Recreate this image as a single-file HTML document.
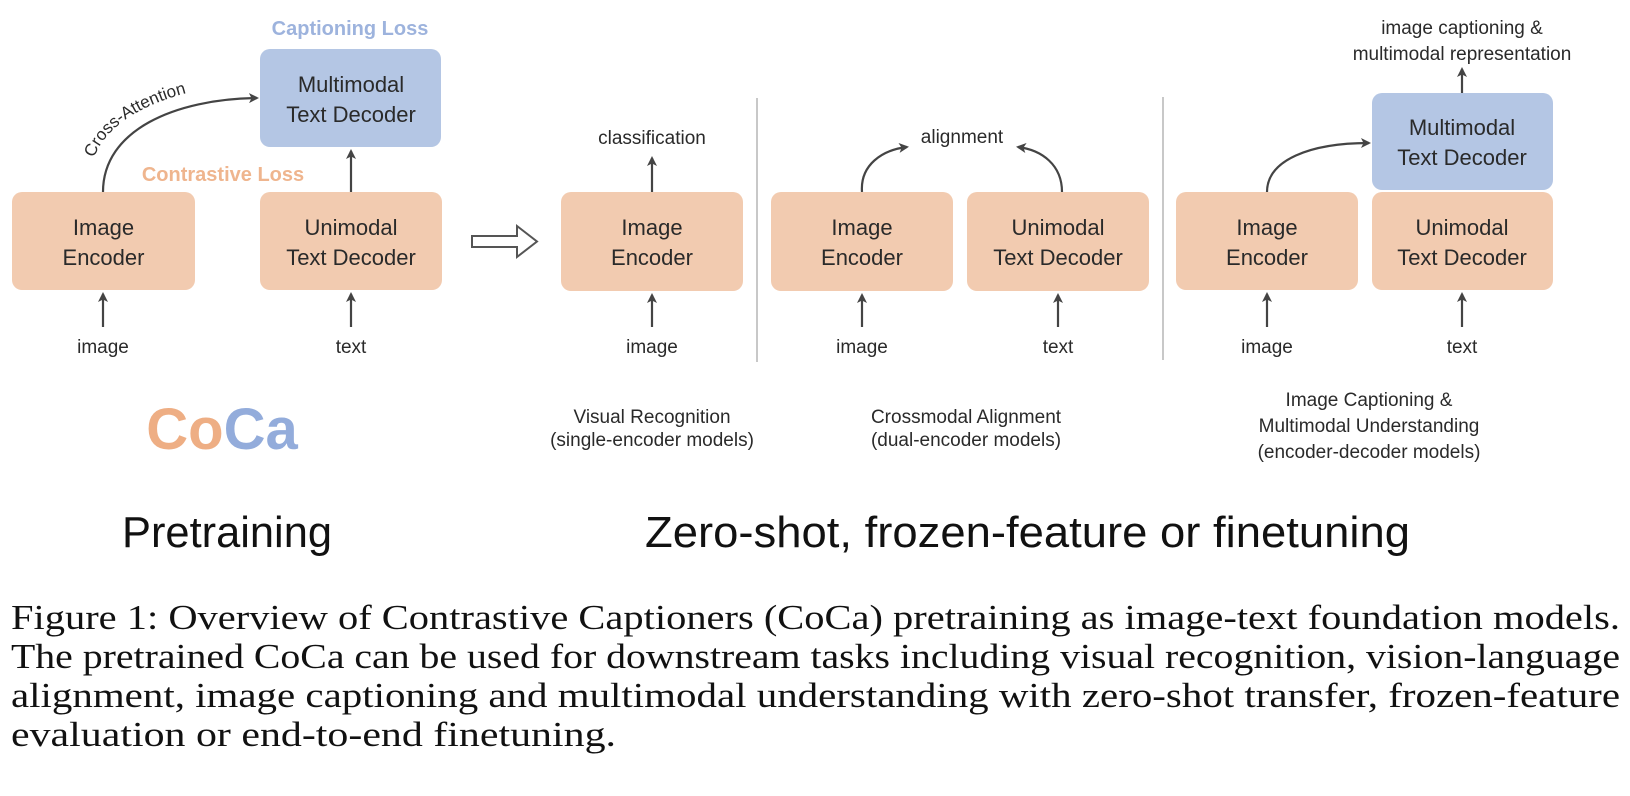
<!DOCTYPE html>
<html><head><meta charset="utf-8"><style>
html,body{margin:0;padding:0;background:#fff;}
svg{display:block;}
.bx{font-family:"Liberation Sans",sans-serif;font-size:22px;fill:#2a2a2a;text-anchor:middle;}
.lb{font-family:"Liberation Sans",sans-serif;font-size:19px;fill:#2a2a2a;text-anchor:middle;}
.cap{font-family:"Liberation Serif",serif;font-size:35px;fill:#111;}
</style></head><body>
<svg width="1630" height="796" viewBox="0 0 1630 796" xmlns="http://www.w3.org/2000/svg">
<defs>
<marker id="ah" markerWidth="10" markerHeight="10" refX="8" refY="5" orient="auto" markerUnits="userSpaceOnUse">
<path d="M0,0 L10,5 L0,10 L2.5,5 Z" fill="#444"/></marker>
</defs>
<g stroke="#444" stroke-width="2.2" fill="none" marker-end="url(#ah)">
<line x1="103" y1="327" x2="103" y2="294"/>
<line x1="351" y1="327" x2="351" y2="294"/>
<line x1="351" y1="192" x2="351" y2="151"/>
<path d="M103,192 C103,130 175,99 257,98"/>
<line x1="652" y1="192" x2="652" y2="158"/>
<line x1="652" y1="327" x2="652" y2="295"/>
<line x1="862" y1="327" x2="862" y2="295"/>
<line x1="1058" y1="327" x2="1058" y2="295"/>
<path d="M862,192 C860,165 882,150 907,147"/>
<path d="M1062,192 C1062,165 1042,150 1018,147"/>
<line x1="1267" y1="327" x2="1267" y2="294"/>
<line x1="1462" y1="327" x2="1462" y2="294"/>
<line x1="1462" y1="93" x2="1462" y2="69"/>
<path d="M1267,192 C1267,160 1310,143 1369,143"/>
</g>
<line x1="757" y1="98" x2="757" y2="362" stroke="#c8c8c8" stroke-width="2"/>
<line x1="1163" y1="97" x2="1163" y2="360" stroke="#c8c8c8" stroke-width="2"/>
<polygon points="472,236 517,236 517,226 537,241.5 517,257 517,247 472,247" fill="#fff" stroke="#555" stroke-width="2"/>
<g fill="#f2cbb0">
<rect x="12" y="192" width="183" height="98" rx="10"/>
<rect x="260" y="192" width="182" height="98" rx="10"/>
<rect x="561" y="192" width="182" height="99" rx="10"/>
<rect x="771" y="192" width="182" height="99" rx="10"/>
<rect x="967" y="192" width="182" height="99" rx="10"/>
<rect x="1176" y="192" width="182" height="98" rx="10"/>
<rect x="1372" y="192" width="181" height="98" rx="10"/>
</g>
<g fill="#b4c6e4">
<rect x="260" y="49" width="181" height="98" rx="10"/>
<rect x="1372" y="93" width="181" height="97" rx="10"/>
</g>
<text class="bx" x="103.5" y="235">Image</text><text class="bx" x="103.5" y="265">Encoder</text>
<text class="bx" x="351" y="235">Unimodal</text><text class="bx" x="351" y="265">Text Decoder</text>
<text class="bx" x="351" y="92">Multimodal</text><text class="bx" x="351" y="122">Text Decoder</text>
<text class="bx" x="652" y="235">Image</text><text class="bx" x="652" y="265">Encoder</text>
<text class="bx" x="862" y="235">Image</text><text class="bx" x="862" y="265">Encoder</text>
<text class="bx" x="1058" y="235">Unimodal</text><text class="bx" x="1058" y="265">Text Decoder</text>
<text class="bx" x="1267" y="235">Image</text><text class="bx" x="1267" y="265">Encoder</text>
<text class="bx" x="1462" y="235">Unimodal</text><text class="bx" x="1462" y="265">Text Decoder</text>
<text class="bx" x="1462" y="135">Multimodal</text><text class="bx" x="1462" y="165">Text Decoder</text>
<text class="lb" x="103" y="353">image</text>
<text class="lb" x="351" y="353">text</text>
<text class="lb" x="652" y="353">image</text>
<text class="lb" x="862" y="353">image</text>
<text class="lb" x="1058" y="353">text</text>
<text class="lb" x="1267" y="353">image</text>
<text class="lb" x="1462" y="353">text</text>
<text class="lb" x="652" y="144">classification</text>
<text class="lb" x="962" y="143">alignment</text>
<text class="lb" x="1462" y="34">image captioning &amp;</text>
<text class="lb" x="1462" y="60">multimodal representation</text>
<text class="lb" x="652" y="423">Visual Recognition</text>
<text class="lb" x="652" y="446">(single-encoder models)</text>
<text class="lb" x="966" y="423">Crossmodal Alignment</text>
<text class="lb" x="966" y="446">(dual-encoder models)</text>
<text class="lb" x="1369" y="406">Image Captioning &amp;</text>
<text class="lb" x="1369" y="432">Multimodal Understanding</text>
<text class="lb" x="1369" y="458">(encoder-decoder models)</text>
<path id="ca" d="M94,158 C108,118 165,92 232,85" fill="none"/>
<text font-family="Liberation Sans,sans-serif" font-size="17" fill="#2a2a2a"><textPath href="#ca">Cross-Attention</textPath></text>
<text x="350" y="35" font-family="Liberation Sans,sans-serif" font-weight="bold" font-size="20" fill="#9db3dd" text-anchor="middle">Captioning Loss</text>
<text x="223" y="181" font-family="Liberation Sans,sans-serif" font-weight="bold" font-size="20" fill="#efb58e" text-anchor="middle">Contrastive Loss</text>
<text x="222" y="449" font-family="Liberation Sans,sans-serif" font-weight="bold" font-size="58" text-anchor="middle"><tspan fill="#eeae84">Co</tspan><tspan fill="#93acdb">Ca</tspan></text>
<text x="122" y="547" font-family="Liberation Sans,sans-serif" font-size="44" fill="#111" textLength="210" lengthAdjust="spacingAndGlyphs">Pretraining</text>
<text x="645" y="547" font-family="Liberation Sans,sans-serif" font-size="44" fill="#111" textLength="765" lengthAdjust="spacingAndGlyphs">Zero-shot, frozen-feature or finetuning</text>
<text class="cap" x="11" y="629" textLength="1609" lengthAdjust="spacingAndGlyphs">Figure 1: Overview of Contrastive Captioners (CoCa) pretraining as image-text foundation models.</text>
<text class="cap" x="11" y="668" textLength="1609" lengthAdjust="spacingAndGlyphs">The pretrained CoCa can be used for downstream tasks including visual recognition, vision-language</text>
<text class="cap" x="11" y="707" textLength="1609" lengthAdjust="spacingAndGlyphs">alignment, image captioning and multimodal understanding with zero-shot transfer, frozen-feature</text>
<text class="cap" x="11" y="746" textLength="605" lengthAdjust="spacingAndGlyphs">evaluation or end-to-end finetuning.</text>
</svg>
</body></html>
